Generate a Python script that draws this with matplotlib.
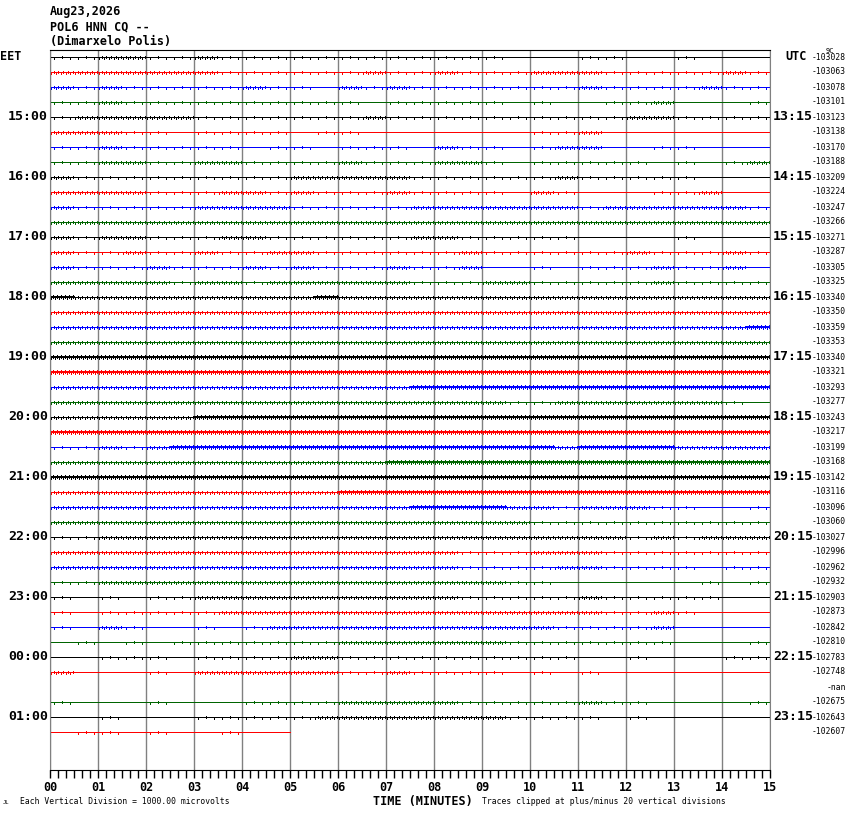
import numpy as np
import matplotlib
matplotlib.use("Agg")
import matplotlib.pyplot as plt

# header
date_str = "Aug23,2026"
station = "POL6 HNN CQ --"
place = "(Dimarxelo Polis)"

# left / right hour labels (one every 4 rows)
eet_hours = ["15:00", "16:00", "17:00", "18:00", "19:00", "20:00",
             "21:00", "22:00", "23:00", "00:00", "01:00"]
utc_hours = ["13:15", "14:15", "15:15", "16:15", "17:15", "18:15",
             "19:15", "20:15", "21:15", "22:15", "23:15"]

# per-row offset value printed on the right
row_values = ["-103028", "-103063", "-103078", "-103101", "-103123", "-103138",
              "-103170", "-103188", "-103209", "-103224", "-103247", "-103266",
              "-103271", "-103287", "-103305", "-103325", "-103340", "-103350",
              "-103359", "-103353", "-103340", "-103321", "-103293", "-103277",
              "-103243", "-103217", "-103199", "-103168", "-103142", "-103116",
              "-103096", "-103060", "-103027", "-102996", "-102962", "-102932",
              "-102903", "-102873", "-102842", "-102810", "-102783", "-102748",
              "-nan", "-102675", "-102643", "-102607"]

# trace activity per half minute (0 quiet .. 3 noisy, '-' no data)
activity = [
    "11 22 11 21 11 11 11 11 11 10 00 11 00 10 00",
    "22 22 22 21 11 11 12 11 21 11 22 21 11 11 21",
    "21 21 11 11 21 10 21 21 11 11 11 21 11 12 11",
    "11 21 11 11 11 11 10 11 11 10 10 01 12 00 01",
    "12 22 22 11 11 11 12 11 11 11 11 11 22 11 11",
    "22 21 10 11 11 01 10 00 00 00 11 20 00 00 00",
    "11 21 11 11 01 10 11 10 21 10 12 20 01 10 00",
    "11 22 11 22 11 11 21 11 22 10 11 11 10 10 12",
    "21 11 11 11 11 22 22 21 11 11 12 11 11 10 00",
    "22 22 11 12 21 21 11 21 11 10 21 00 01 12 00",
    "21 11 11 22 22 11 11 12 22 22 22 12 22 22 21",
    "22 22 22 22 22 22 22 22 22 22 22 22 22 22 22",
    "21 22 11 12 21 11 11 12 21 11 11 00 00 10 00",
    "21 12 11 21 12 21 11 11 12 11 11 11 21 11 21",
    "21 11 21 11 21 21 11 21 12 00 10 11 12 11 20",
    "22 22 21 22 12 22 22 21 11 22 11 11 12 11 11",
    "32 22 22 22 22 23 22 22 22 22 22 22 22 22 22",
    "22 22 22 22 22 22 22 22 22 22 22 22 22 22 22",
    "22 22 22 22 22 22 22 22 22 22 22 22 22 22 23",
    "22 22 22 22 22 22 22 22 22 22 22 22 22 22 22",
    "33 33 33 33 33 33 33 33 33 33 33 33 33 33 33",
    "33 33 33 33 33 33 33 33 33 33 33 33 33 33 33",
    "22 22 22 22 22 22 22 23 33 33 33 33 33 33 33",
    "22 22 22 22 22 22 22 22 22 21 12 22 22 22 10",
    "22 22 22 33 33 33 33 33 33 33 33 33 33 33 33",
    "33 33 33 33 33 33 33 33 33 33 33 33 33 33 33",
    "11 21 23 33 33 33 33 33 33 33 32 33 33 22 22",
    "22 22 22 22 22 22 22 33 33 33 33 33 33 33 33",
    "33 33 33 33 33 33 33 33 33 33 33 33 33 33 33",
    "22 22 22 22 22 22 33 33 33 33 33 33 33 33 33",
    "22 22 22 22 22 22 22 23 33 32 21 22 21 10 01",
    "22 22 22 22 22 22 22 22 22 22 11 11 11 11 11",
    "11 22 22 22 22 22 22 22 22 22 22 22 12 12 22",
    "22 22 22 22 22 22 22 22 21 11 22 21 11 11 11",
    "22 22 22 22 22 22 22 22 21 11 12 21 11 10 11",
    "11 22 22 22 22 22 22 22 22 21 10 00 00 01 01",
    "10 10 11 22 22 22 22 22 21 11 11 21 11 11 00",
    "10 11 11 12 22 22 22 22 22 22 22 21 12 10 00",
    "10 21 00 10 12 22 22 22 22 22 21 11 12 00 00",
    "01 01 01 11 11 11 22 22 22 21 11 11 11 00 01",
    "00 11 10 11 11 22 11 11 11 11 11 00 10 00 11",
    "20 00 10 22 22 22 11 21 11 10 10 10 00 00 00",
    "-- -- -- -- -- -- -- -- -- -- -- -- -- -- --",
    "10 00 10 00 11 11 22 22 21 11 11 21 10 00 01",
    "00 10 00 11 11 12 22 22 22 21 11 10 10 00 00",
    "01 10 10 01 00 -- -- -- -- -- -- -- -- -- --",
]

trace_colors = ["black", "#ff0000", "#0000ff", "#006400"]
PX = 1 / 15  # one pixel in row units
# drawing style per activity level: speckles per half minute, speckle reach up / down (px)
level_ticks = {"1": 3, "2": 10, "3": 12}
level_up = {"1": 2, "2": 1.5, "3": 2}
level_dn = {"1": 1, "2": 1.5, "3": 2}

mono = "DejaVu Sans Mono"

fig = plt.figure(figsize=(8.5, 8.14), dpi=100)
W, H = 850, 814
ax = fig.add_axes([50 / W, (H - 770) / H, 720 / W, 720 / H])

for i, s in enumerate(activity):
    s = s.replace(" ", "")
    col = trace_colors[i % 4]
    valid = [k for k, c in enumerate(s) if c != "-"]
    if not valid:
        continue
    x_end = (valid[-1] + 1) * 0.5
    ax.plot([0, x_end], [i, i], color=col, lw=0.72, solid_capstyle="butt",
            antialiased=False)
    xs, lo, hi = [], [], []
    for k, c in enumerate(s):
        if c not in level_ticks:
            continue
        if c == "3":
            # noisy stretch: trace looks twice as thick
            ax.plot([k * 0.5, k * 0.5 + 0.5], [i - PX, i - PX], color=col,
                    lw=0.72, solid_capstyle="butt", antialiased=False)
        n = level_ticks[c]
        for j in range(n):
            xs.append(k * 0.5 + (j + 0.5) * 0.5 / n)
            if j % 2 == 0:
                lo.append(i - PX * 0.5)
                hi.append(i + level_up[c] * PX)
            else:
                lo.append(i - level_dn[c] * PX)
                hi.append(i + PX * 0.5)
    if xs:
        ax.vlines(xs, lo, hi, color=col, lw=0.72, antialiased=False)

ax.set_xlim(0, 15)
ax.set_ylim((770 - 57) / 15, -7 / 15)

ax.grid(axis="x", color="gray", lw=1)
ax.set_axisbelow(True)
ax.set_yticks([])
ax.set_xticks(range(16))
ax.set_xticklabels(["%02d" % m for m in range(16)], fontfamily=mono,
                   fontweight="bold", fontsize=8.5)
ax.set_xticks(np.arange(0, 15.01, 1 / 6), minor=True)
ax.tick_params(axis="x", which="both", direction="out", length=6, width=1,
               pad=2, color="black")
for side in ["left", "right"]:
    ax.spines[side].set_color("gray")
ax.spines["top"].set_color("black")
ax.spines["bottom"].set_color("black")

ytr = ax.get_yaxis_transform()
ax.text(-50 / 720, 0, "EET", transform=ytr, ha="left", va="center",
        fontfamily=mono, fontweight="bold", fontsize=8.5)
ax.text(735 / 720, 0, "UTC", transform=ytr, ha="left", va="center",
        fontfamily=mono, fontweight="bold", fontsize=8.5)
for k, (le, ri) in enumerate(zip(eet_hours, utc_hours)):
    r = 4 * (k + 1)
    ax.text(-2 / 720, r, le, transform=ytr, ha="right", va="center",
            fontfamily=mono, fontweight="bold", fontsize=9.5)
    ax.text(723 / 720, r, ri, transform=ytr, ha="left", va="center",
            fontfamily=mono, fontweight="bold", fontsize=9.5)
for i, v in enumerate(row_values):
    ax.text(796 / 720, i, v, transform=ytr, ha="right", va="center",
            fontfamily=mono, fontsize=5.8)

fig.text(50 / W, 1 - 12 / H, date_str, fontfamily=mono, fontweight="bold",
         fontsize=8.5, va="center")
fig.text(50 / W, 1 - 27 / H, station, fontfamily=mono, fontweight="bold",
         fontsize=8.5, va="center")
fig.text(50 / W, 1 - 42 / H, place, fontfamily=mono, fontweight="bold",
         fontsize=8.5, va="center")
fig.text(826 / W, 1 - 51 / H, "9C", fontfamily=mono, fontsize=5, va="center")

fig.text(3 / W, 1 - 802 / H, "JL", fontfamily=mono, fontsize=4, va="center")
fig.text(20 / W, 1 - 801 / H, "Each Vertical Division = 1000.00 microvolts",
         fontfamily=mono, fontsize=5.8, va="center")
fig.text(373 / W, 1 - 801 / H, "TIME (MINUTES)", fontfamily=mono,
         fontweight="bold", fontsize=8.5, va="center")
fig.text(482 / W, 1 - 801 / H,
         "Traces clipped at plus/minus 20 vertical divisions",
         fontfamily=mono, fontsize=5.8, va="center")

fig.savefig("out.png", dpi=100)
